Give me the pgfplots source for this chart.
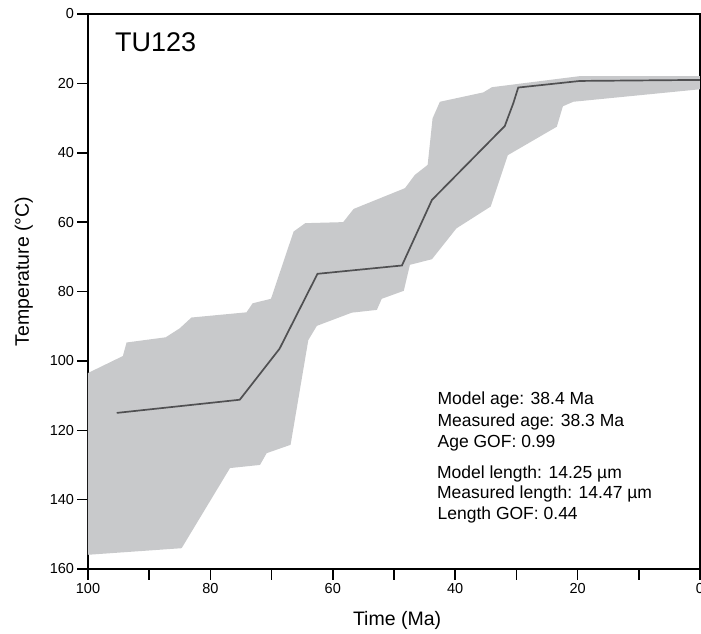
\documentclass[border=0pt]{standalone}
\usepackage{pgfplots}
\pgfplotsset{compat=1.18}
\usepackage{fontspec}
\setmainfont{Liberation Sans}
\definecolor{band}{RGB}{200,201,203}
\definecolor{pathc}{RGB}{80,80,82}
\begin{document}
\begin{tikzpicture}
\begin{axis}[
 scale only axis, width=612pt, height=555pt,
 xmin=0, xmax=100, ymin=0, ymax=160,
 x dir=reverse, y dir=reverse,
 xtick={0,20,...,100}, minor xtick={10,30,50,70,90},
 ytick={0,20,...,160},
 xtick pos=left, ytick pos=left, tick align=outside,
 major tick length=10.5pt, minor tick length=10.5pt,
 tick style={black, line width=1.5pt},
 axis line style={line width=1.6pt},
 tick label style={font=\fontsize{14.5}{17}\selectfont},
 /pgf/number format/assume math mode=true,
 label style={font=\fontsize{19.5}{23}\selectfont},
 xlabel={Time (Ma)}, ylabel={Temperature (°C)},
 xlabel style={at={(axis description cs:0.505,-0.1022)}, anchor=base},
 ylabel style={at={(axis description cs:-0.0964,0.536)}, anchor=base},
]
\addplot[fill=band, draw=none] coordinates {
(100,103.5) (94.3,98.6) (93.7,94.7) (87.3,93.2) (85.0,90.6) (83.1,87.5)
(74.1,86.0) (73.1,83.4) (70.1,82.1) (66.4,62.7) (64.5,60.3) (58.3,60.0)
(56.6,56.2) (48.2,50.2) (46.6,46.4) (44.5,43.5) (43.7,30.1) (42.5,25.3)
(35.4,22.6) (34.0,21.1) (19.6,17.9) (0,17.9)
(0,21.7) (20.7,25.3) (22.4,26.6) (23.4,32.5) (31.4,40.7) (34.2,55.5)
(39.8,61.8) (43.8,70.7) (47.4,72.3) (48.4,79.8) (52.0,82.1) (52.8,85.3)
(56.9,86.1) (62.6,89.9) (64.0,94.0) (66.9,124.2) (70.8,126.6) (71.9,130.0)
(76.8,130.9) (84.7,154.0) (100,155.9)
} -- cycle;
\addplot[pathc, line width=1.7pt, mark=none] coordinates {
(95.3,115) (75.2,111.2) (68.7,96.5) (62.5,74.9) (48.7,72.5) (43.8,53.6)
(31.9,32.3) (30.5,25.7) (29.7,21.2) (19.6,19.3) (0,19.0)
};
\node[anchor=base west, inner sep=0, font=\fontsize{27}{32}\selectfont] at (axis cs:95.6,10.87) {TU123};
\begin{scope}[every node/.style={anchor=base west, inner sep=0, font=\fontsize{17.5}{21}\selectfont}]
\node at (axis cs:42.9,112.7) {Model age: 38.4 Ma};
\node at (axis cs:42.9,119.0) {Measured age: 38.3 Ma};
\node at (axis cs:42.9,124.9) {Age GOF: 0.99};
\node at (axis cs:43.0,133.8) {Model length: 14.25 µm};
\node at (axis cs:43.0,139.6) {Measured length: 14.47 µm};
\node at (axis cs:42.9,145.6) {Length GOF: 0.44};
\end{scope}
\end{axis}
\pgfresetboundingbox
\path[use as bounding box] ([shift={(-88pt,-65pt)}]current axis.south west) rectangle ([shift={(1pt,14pt)}]current axis.north east);
\end{tikzpicture}
\end{document}
